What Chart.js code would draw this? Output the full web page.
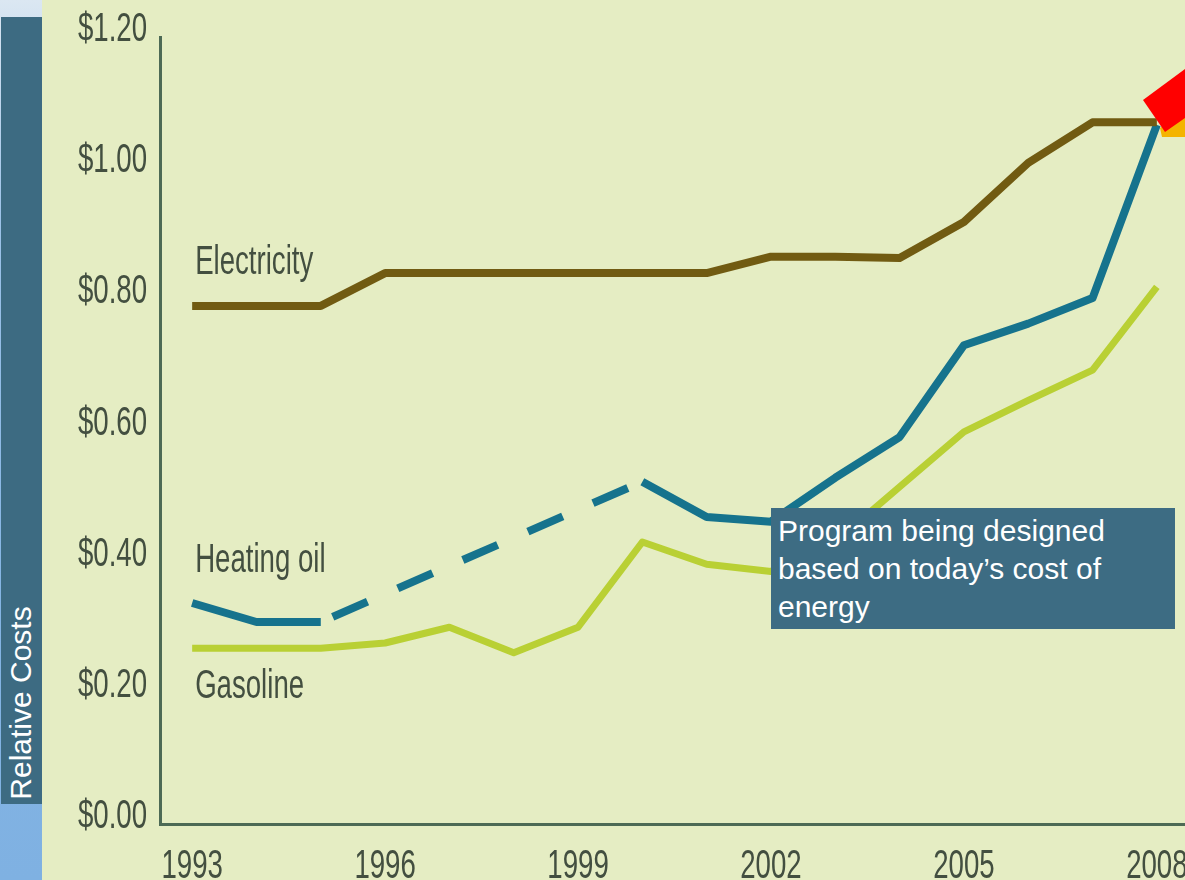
<!DOCTYPE html>
<html>
<head>
<meta charset="utf-8">
<script src="https://cdn.jsdelivr.net/npm/chart.js@4"></script>
<style>
  html, body { margin: 0; padding: 0; width: 1185px; height: 880px; overflow: hidden; background: #e5edc3; }
  #side { position: absolute; left: 0; top: 0; width: 42px; height: 880px;
          background: linear-gradient(#dbe7f2, #9cc2e8 25%, #84b4e3 70%, #7fb1e2); }
  #sideBox { position: absolute; left: 1px; top: 17px; width: 41px; height: 787px; background: #3d6b82; }
  #sideLabel { position: absolute; left: 21px; top: 703px; transform: translate(-50%, -50%) rotate(-90deg);
               white-space: nowrap; color: #fff; font: 30px "Liberation Sans", Arial, sans-serif; }
  #wrap { position: absolute; left: 42px; top: 0; width: 1160px; height: 880px; }
  #note { position: absolute; left: 771px; top: 508px; width: 397px; height: 117px; padding: 4px 0 0 7px;
          background: #3d6c83; color: #fff; font: 30px "Liberation Sans", Arial, sans-serif; line-height: 38px; }
  #arrowBack { position: absolute; left: 1130px; top: 60px; width: 55px; height: 80px; background: #f4b400;
               clip-path: polygon(30px 68px, 55px 52px, 55px 77px, 32px 77px); }
  #arrow { position: absolute; left: 1130px; top: 60px; width: 55px; height: 80px; background: #ff0000;
           clip-path: polygon(13px 40px, 55px 9px, 55px 58px, 35px 72px); }
</style>
</head>
<body>
<div id="wrap"><canvas id="chart"></canvas></div>
<div id="side"><div id="sideBox"></div><div id="sideLabel">Relative Costs</div></div>
<div id="note">Program being designed<br>based on today’s cost of<br>energy</div>
<div id="arrowBack"></div>
<div id="arrow"></div>
<script>
  // ---------------- dados ----------------
  const YEARS = [1993, 1994, 1995, 1996, 1997, 1998, 1999, 2000, 2001, 2002, 2003, 2004, 2005, 2006, 2007, 2008];
  const TICK_YEARS = [1993, 1996, 1999, 2002, 2005, 2008];
  const Y_TICKS = [0, 0.2, 0.4, 0.6, 0.8, 1.0, 1.2];

  const ELECTRICITY = [0.79, 0.79, 0.79, 0.84, 0.84, 0.84, 0.84, 0.84, 0.84, 0.865, 0.865, 0.863, 0.918, 1.008, 1.07, 1.07];
  // 1996-1999 sem dados: desenhado a tracejado entre 1995 e 2000
  const HEATING_OIL = [0.337, 0.308, 0.308, null, null, null, null, 0.522, 0.468, 0.461, 0.528, 0.59, 0.73, 0.763, 0.802, 1.066];
  const GASOLINE = [0.268, 0.268, 0.268, 0.276, 0.3, 0.261, 0.3, 0.43, 0.396, 0.385, 0.43, 0.514, 0.598, 0.646, 0.692, 0.819];

  // ---------------- estilo ----------------
  const FONT = '40px "Liberation Sans", Arial, sans-serif';
  const SQUEEZE = 0.69;   // fonte estreita (condensada) do original
  const TEXT = '#434f40';
  const AXIS = '#4d6a55';
  const COLORS = { electricity: '#715b12', heating: '#16738d', gasoline: '#b9d034' };
  const DASH = [38, 33];

  // etiquetas das séries, relativas ao primeiro ponto (baseline)
  const LABEL_DY = [-32, -31, 50];

  // texto estreito: escala horizontal
  const squeezed = (ctx, text, px, py, align) => {
    ctx.save();
    ctx.translate(px, py);
    ctx.scale(SQUEEZE, 1);
    ctx.textAlign = align;
    ctx.fillText(text, 0, 0);
    ctx.restore();
  };

  const textPlugin = {
    id: 'textPlugin',
    afterDraw(chart) {
      const { ctx, scales: { x, y } } = chart;
      ctx.save();
      ctx.font = FONT;
      ctx.fillStyle = TEXT;
      ctx.textBaseline = 'alphabetic';
      x.ticks.forEach((t, i) => {
        if (t.label) squeezed(ctx, t.label, x.getPixelForTick(i), x.top + 54, 'center');
      });
      y.ticks.forEach((t, i) => {
        squeezed(ctx, t.label, y.right - 13, y.getPixelForTick(i) + 4, 'right');
      });
      chart.data.datasets.forEach((ds, i) => {
        const pt = chart.getDatasetMeta(i).data[0];
        squeezed(ctx, ds.label, pt.x + 3, pt.y + LABEL_DY[i], 'left');
      });
      ctx.restore();
    }
  };

  const gap = (ctx, v) => (ctx.p0.skip || ctx.p1.skip) ? v : undefined;

  new Chart(document.getElementById('chart'), {
    type: 'line',
    data: {
      labels: YEARS,
      datasets: [
        { label: 'Electricity', data: ELECTRICITY, borderColor: COLORS.electricity, borderWidth: 8 },
        { label: 'Heating oil', data: HEATING_OIL, borderColor: COLORS.heating, borderWidth: 8,
          spanGaps: true,
          segment: { borderDash: ctx => gap(ctx, DASH), borderDashOffset: ctx => gap(ctx, 58) } },
        { label: 'Gasoline', data: GASOLINE, borderColor: COLORS.gasoline, borderWidth: 7 },
      ]
    },
    options: {
      responsive: true, maintainAspectRatio: false, animation: false,
      layout: { padding: { top: 37, right: 13, left: 0, bottom: 0 } },
      elements: { point: { radius: 0 }, line: { tension: 0, borderJoinStyle: 'round' } },
      plugins: { legend: { display: false }, tooltip: { enabled: false } },
      scales: {
        x: {
          type: 'category', offset: true,
          grid: { display: false },
          border: { display: true, color: AXIS, width: 3 },
          afterFit: (s) => { s.height = 56; },
          ticks: {
            display: false, autoSkip: false,
            callback: (v, i) => TICK_YEARS.includes(YEARS[i]) ? String(YEARS[i]) : ''
          }
        },
        y: {
          min: 0, max: 1.2,
          grid: { display: false },
          border: { display: true, color: AXIS, width: 3 },
          afterFit: (s) => { s.width = 118; },
          afterBuildTicks: (s) => { s.ticks = Y_TICKS.map(v => ({ value: v })); },
          ticks: {
            display: false,
            callback: (v) => '$' + Number(v).toFixed(2)
          }
        }
      }
    },
    plugins: [textPlugin]
  });
</script>
</body>
</html>
